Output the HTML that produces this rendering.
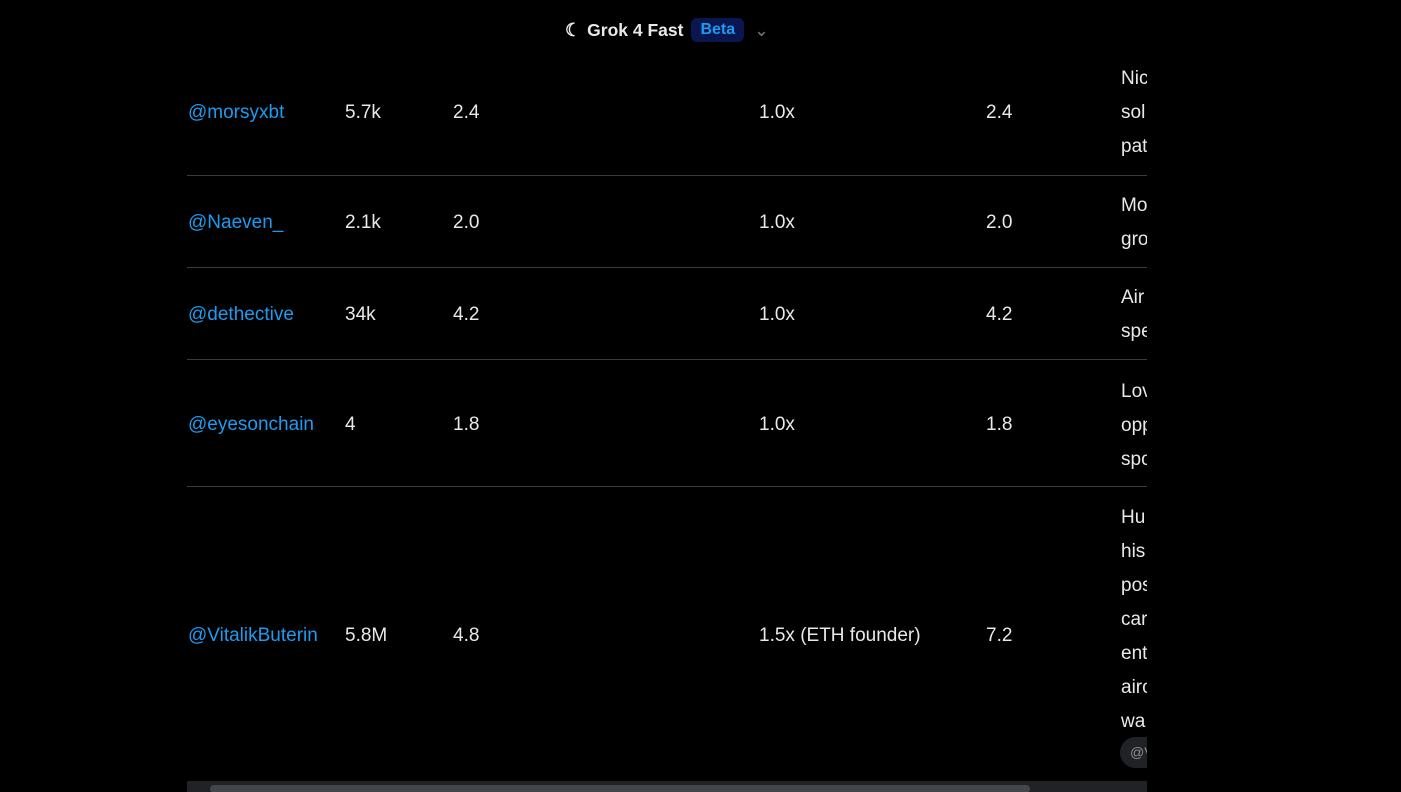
<!DOCTYPE html>
<html><head><meta charset="utf-8"><style>
body{margin:0;width:1401px;height:792px;background:#000;overflow:hidden;font-family:"Liberation Sans",sans-serif;color:#e7e9ea;position:relative}
.hdr{position:absolute;top:17px;left:565px;height:26px;display:flex;align-items:center;font-weight:bold;font-size:17.5px;color:#e7e9ea}
.beta{margin-left:8px;background:#0a1650;color:#1d9bf0;border-radius:6px;padding:3px 9px;font-size:16px}
.wrap{position:absolute;left:187px;top:0;width:960px;height:792px;overflow:hidden}
.t{position:absolute;font-size:19px;line-height:34px;white-space:nowrap;margin-top:2px}
.a{color:#1d9bf0}
.div{position:absolute;left:0;width:960px;height:1px;background:#3a3d40}
.sb{position:absolute;left:0;top:781px;width:960px;height:11px;background:#202226}
.th{position:absolute;left:23px;top:4px;width:820px;height:8px;background:#43474b;border-radius:4px}
.chip{position:absolute;left:933px;top:737px;width:60px;height:31px;border-radius:16px;background:#202226;color:#8b8f93;font-size:14px;line-height:31px;padding-left:10px}
</style></head><body>
<div class="hdr"><span style="font-size:18px;margin-right:6px">☾</span>Grok 4 Fast<span class="beta">Beta</span><span style="margin-left:10px;color:#71767b;font-weight:normal">⌄</span></div>
<div class="wrap">
<div class="t a" style="left:1px;top:94px">@morsyxbt</div>
<div class="t" style="left:158px;top:94px">5.7k</div><div class="t" style="left:266px;top:94px">2.4</div><div class="t" style="left:572px;top:94px">1.0x</div><div class="t" style="left:799px;top:94px">2.4</div>
<div class="t" style="left:934px;top:60px">Nic<br>sol<br>pat</div>
<div class="div" style="top:175px"></div>
<div class="t a" style="left:1px;top:204px">@Naeven_</div>
<div class="t" style="left:158px;top:204px">2.1k</div><div class="t" style="left:266px;top:204px">2.0</div><div class="t" style="left:572px;top:204px">1.0x</div><div class="t" style="left:799px;top:204px">2.0</div>
<div class="t" style="left:934px;top:187px">Mo<br>gro</div>
<div class="div" style="top:267px"></div>
<div class="t a" style="left:1px;top:296px">@dethective</div>
<div class="t" style="left:158px;top:296px">34k</div><div class="t" style="left:266px;top:296px">4.2</div><div class="t" style="left:572px;top:296px">1.0x</div><div class="t" style="left:799px;top:296px">4.2</div>
<div class="t" style="left:934px;top:279px">Air<br>spe</div>
<div class="div" style="top:359px"></div>
<div class="t a" style="left:1px;top:406px">@eyesonchain</div>
<div class="t" style="left:158px;top:406px">4</div><div class="t" style="left:266px;top:406px">1.8</div><div class="t" style="left:572px;top:406px">1.0x</div><div class="t" style="left:799px;top:406px">1.8</div>
<div class="t" style="left:934px;top:373px">Lov<br>opp<br>spo</div>
<div class="div" style="top:486px"></div>
<div class="t a" style="left:1px;top:617px">@VitalikButerin</div>
<div class="t" style="left:158px;top:617px">5.8M</div><div class="t" style="left:266px;top:617px">4.8</div><div class="t" style="left:572px;top:617px">1.5x (ETH founder)</div><div class="t" style="left:799px;top:617px">7.2</div>
<div class="t" style="left:934px;top:499px">Hu<br>his<br>pos<br>car<br>ent<br>airo<br>wa</div>
<div class="chip">@V</div>
<div class="sb"><div class="th"></div></div>
</div>
</body></html>
